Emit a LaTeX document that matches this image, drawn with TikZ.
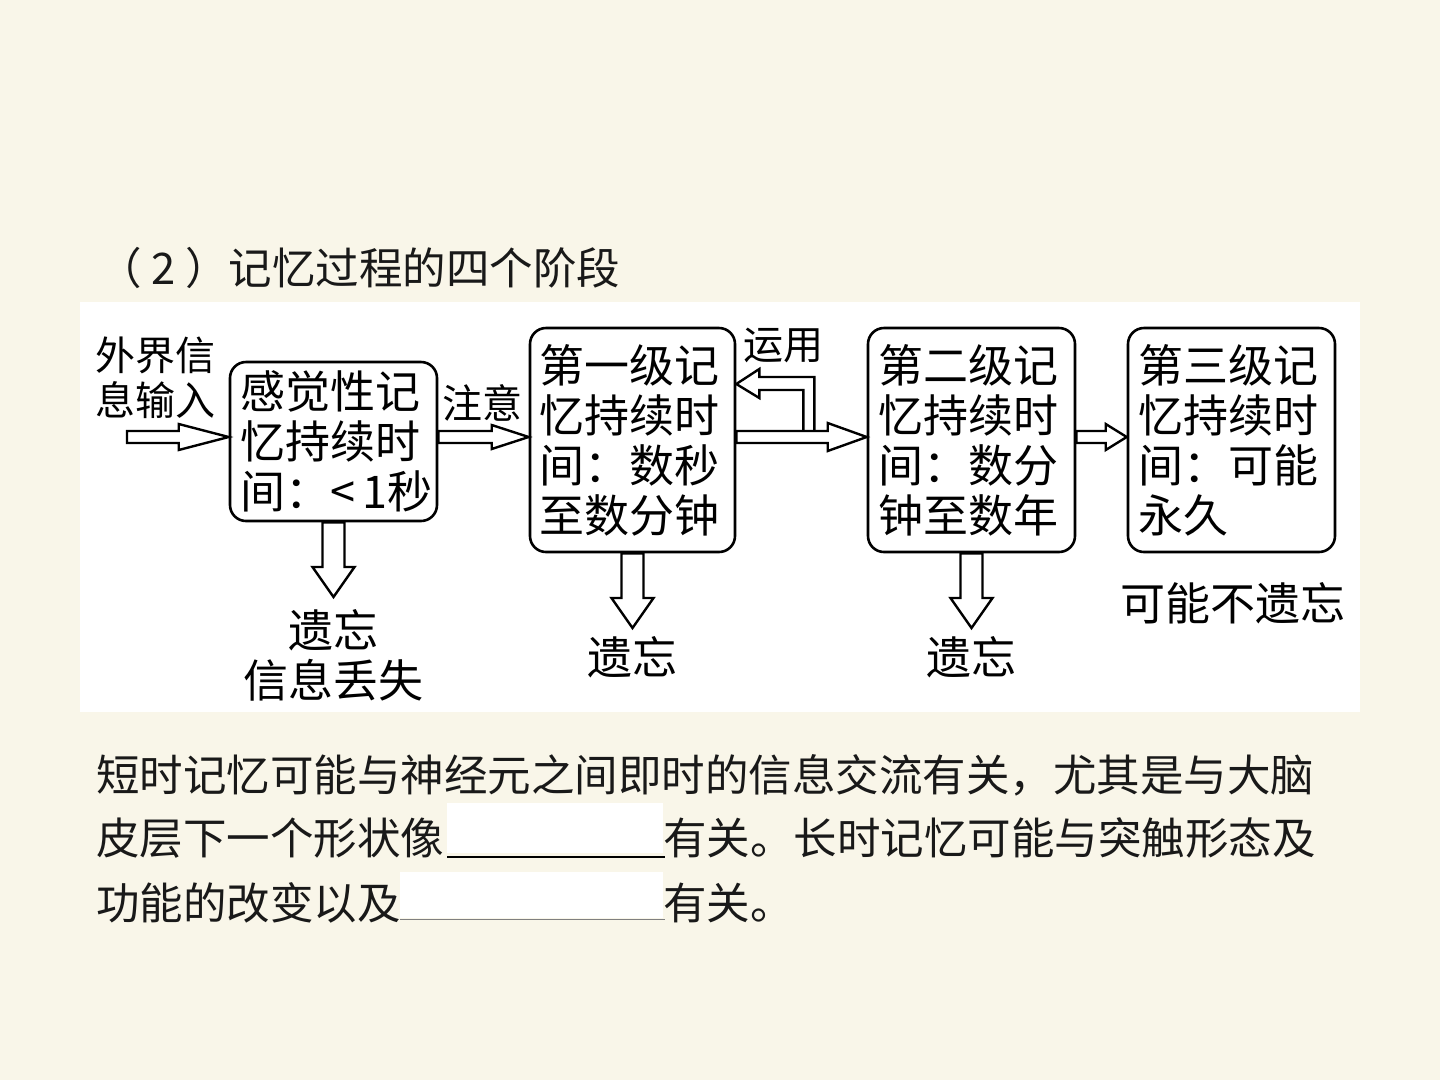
\documentclass[tikz,border=0pt]{standalone}
\usepackage{fontspec}
\setmainfont{Noto Sans CJK SC}
\usetikzlibrary{calc}
\definecolor{papel}{RGB}{249,246,233}
\definecolor{tinta}{RGB}{25,25,25}
\tikzset{
  caja/.style={draw, line width=2.6pt, rounded corners=16pt, fill=white,
    align=left, text width=186pt, inner sep=0pt,
    font=\fontsize{45}{50}\selectfont},
  etiq/.style={inner sep=0pt, font=\fontsize{40}{45}\selectfont},
  pie/.style={inner sep=0pt, align=center, font=\fontsize{45}{50}\selectfont},
  texto/.style={inner sep=0pt, anchor=west, text=tinta,
    font=\fontsize{43.5}{50}\selectfont},
  flecha/.style={draw, fill=white, line width=2.4pt, line join=miter},
}
% flecha hueca: inicio, punta, largo de punta, media anchura de punta
\newcommand{\flechader}[4]{%
  \draw[flecha] let \p1=#1, \p2=#2 in
    (\x1,\y2+6pt) -- (\x2-#3,\y2+6pt) -- (\x2-#3,\y2+#4) -- (\x2,\y2)
    -- (\x2-#3,\y2-#4) -- (\x2-#3,\y2-6pt) -- (\x1,\y2-6pt) -- cycle;}
\newcommand{\flechabaj}[2]{%
  \draw[flecha] let \p1=#1, \p2=#2 in
    (\x1-11pt,\y1) -- (\x1-11pt,\y2+30pt) -- (\x1-21pt,\y2+30pt) -- (\x1,\y2)
    -- (\x1+21pt,\y2+30pt) -- (\x1+11pt,\y2+30pt) -- (\x1+11pt,\y1) -- cycle;}
\begin{document}
\begin{tikzpicture}[x=1pt,y=-1pt]
%
% fondo y recuadro blanco
\fill[papel] (0,0) rectangle (1440,1080);
\useasboundingbox (0,0) rectangle (1440,1080);
\fill[white] (80,302) rectangle (1360,712);
%
\node[texto] (t) at (98,268) {（ 2 ）记忆过程的四个阶段};
%
% cajas
\node[caja, minimum width=207pt, minimum height=159pt] (1) at (333.5,441.5) {感觉性记\\忆持续时\\间：<\,1秒};
\node[caja, minimum width=205pt, minimum height=224pt] (2) at (632.5,440) {第一级记\\忆持续时\\间：数秒\\至数分钟};
\node[caja, minimum width=207pt, minimum height=224pt] (3) at (971.5,440) {第二级记\\忆持续时\\间：数分\\钟至数年};
\node[caja, minimum width=207pt, minimum height=224pt] (4) at (1231.5,440) {第三级记\\忆持续时\\间：可能\\永久};
%
% etiquetas
\node[etiq, align=left, anchor=west] (e1) at (95,378) {外界信\\息输入};
\node[etiq] (e2) at (482,403) {注意};
\node[etiq] (e3) at (783,345) {运用};
\node[pie] (o1) at (333,655) {遗忘\\信息丢失};
\node[pie] (o2) at (632,657) {遗忘};
\node[pie] (o3) at (971,657) {遗忘};
\node[pie] (o4) at (1233,603) {可能不遗忘};
%
% flechas
\coordinate (in) at (127,437);
\coordinate (a) at (0,437);
\flechader{(in)}{(1.west |- a)}{50pt}{13pt}
\flechader{(1.east |- a)}{(2.west |- a)}{37pt}{12pt}
% retorno (运用)
\draw[flecha] let \p1=(2.east |- a) in
  (\x1+67pt,\y1+7pt) -- (\x1+67pt,\y1+47pt) -- (\x1+23pt,\y1+47pt)
  -- (\x1+23pt,\y1+39pt) -- (\x1,\y1+53pt) -- (\x1+23pt,\y1+68pt)
  -- (\x1+23pt,\y1+60pt) -- (\x1+78pt,\y1+60pt) -- (\x1+78pt,\y1+7pt);
\flechader{(2.east |- a)}{(3.west |- a)}{39pt}{14pt}
\flechader{(3.east |- a)}{(4.west |- a)}{21pt}{13pt}
%
\coordinate (p1) at (333,597);
\coordinate (p2) at (632,628);
\coordinate (p3) at (971,628);
\flechabaj{(1.south)}{(p1)}
\flechabaj{(2.south)}{(p2)}
\flechabaj{(3.south)}{(p3)}
%
% texto de abajo
\node[texto] (l1) at (96,775) {短时记忆可能与神经元之间即时的信息交流有关，尤其是与大脑};
\node[texto] (l2) at (96,838) {皮层下一个形状像};
\fill[white] (447,803) rectangle (663,853);
\draw[line width=2pt] (447,857) -- (665,857);
\node[texto] (l3) at (663,838) {有关。长时记忆可能与突触形态及};
\node[texto] (l4) at (96,903) {功能的改变以及};
\fill[white] (400,872) rectangle (663,918);
\draw[gray, line width=1pt] (400,919) -- (665,919);
\node[texto] (l5) at (663,903) {有关。};
%
\end{tikzpicture}
\end{document}
